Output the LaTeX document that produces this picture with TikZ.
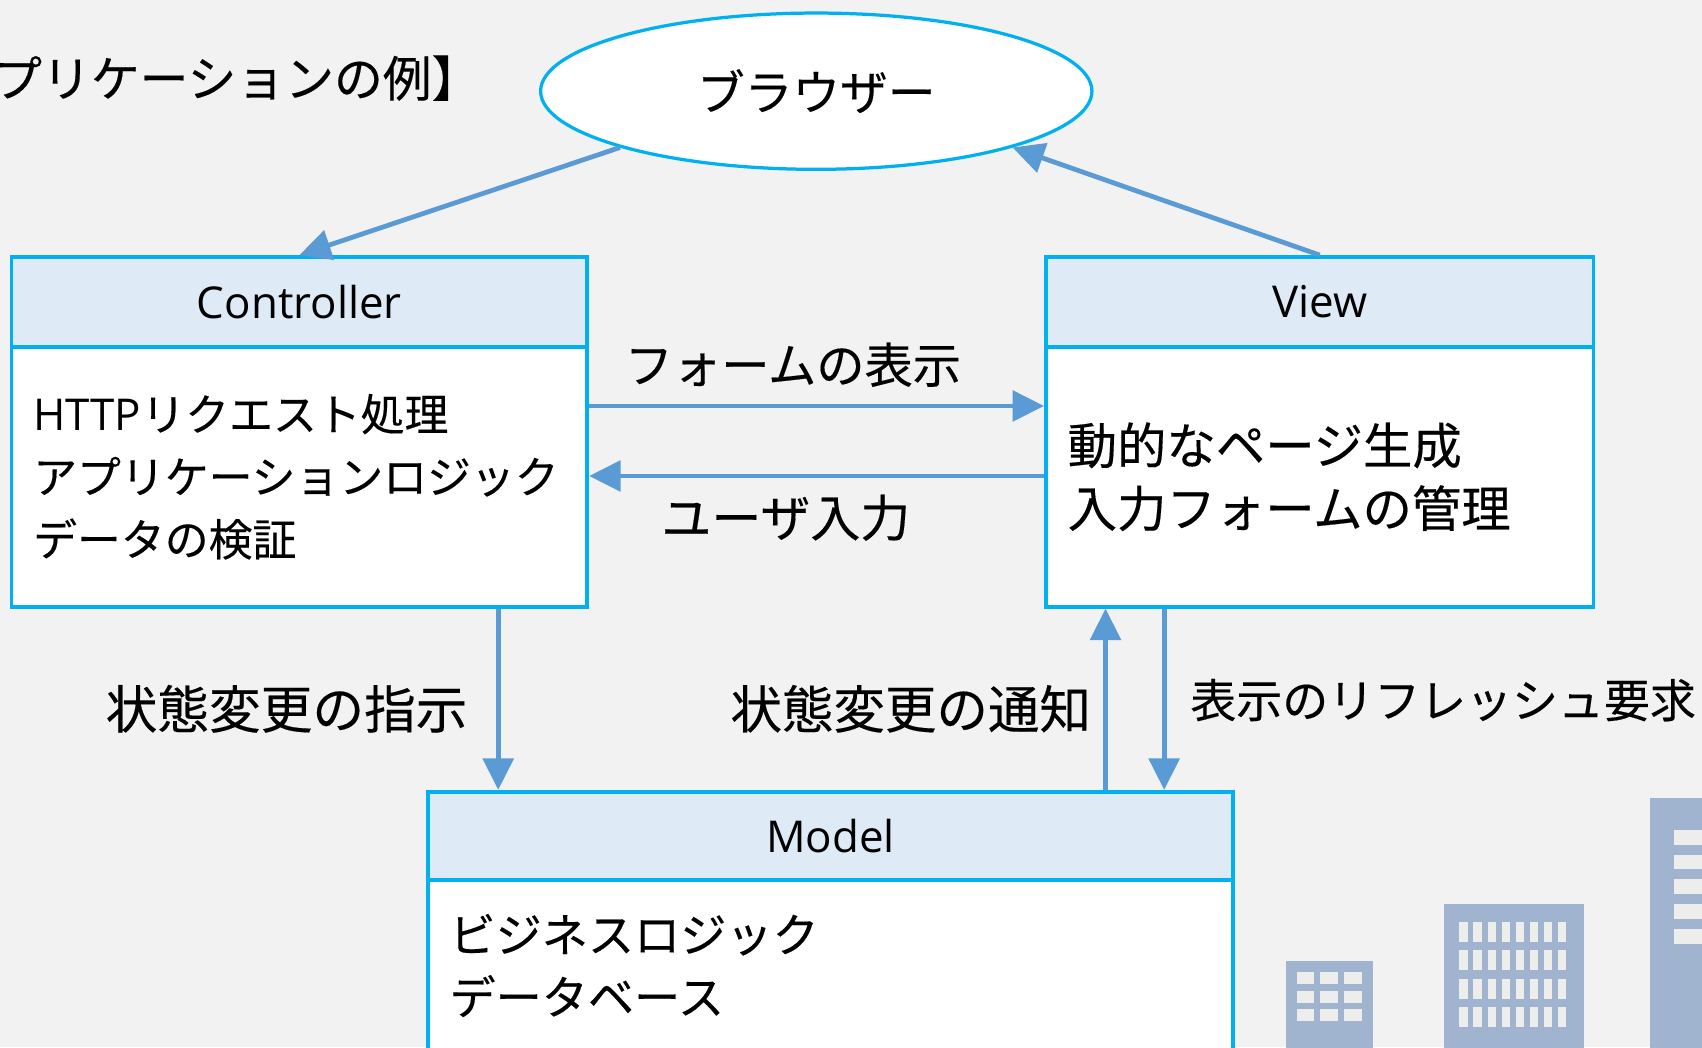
\documentclass[tikz,border=0pt]{standalone}
\usepackage{fontspec}
\setmainfont{Noto Sans CJK JP}[FakeBold=0.3]
\newfontfamily\latinfont{Open Sans}
\usetikzlibrary{shapes.geometric, arrows.meta}
\definecolor{paper}{HTML}{F2F2F2}
\definecolor{boxline}{HTML}{00B0F0}
\definecolor{headfill}{HTML}{DEEAF6}
\definecolor{arrowblue}{HTML}{5B9BD5}
\definecolor{bldg}{HTML}{A0B4D0}
\definecolor{pane}{HTML}{EDEDEB}

\tikzset{
  head/.style={draw=boxline, fill=headfill, line width=2pt, inner sep=0pt,
    minimum height=1.65cm, font=\latinfont\fontsize{23pt}{28pt}\selectfont},
  body/.style={draw=boxline, fill=white, line width=2pt, inner xsep=0.4cm,
    inner ysep=0pt, align=left},
  link/.style={draw=arrowblue, line width=2.5pt,
    -{Triangle[length=5.8mm, width=5.6mm]}},
  lbl/.style={inner sep=0pt, font=\fontsize{#1}{#1}\selectfont},
}

\begin{document}
\begin{tikzpicture}[x=0.02cm, y=-0.02cm]
    \useasboundingbox (0,0) rectangle (1568,965);
    \clip (0,0) rectangle (1568,965);
    \fill[paper] (0,0) rectangle (1568,965);

    % Titel
    \node[lbl=25.6pt, anchor=east] (title) at (443,72) {アプリケーションの例】};

    % Gebaeude unten rechts
    \fill[bldg] (1184.4,885) rectangle (1265.2,970);
    \foreach \i in {0,1,2} {
        \foreach \j in {0,1,2} {
            \fill[pane] (1194.6+21.8*\i, 895.7+17.1*\j) rectangle ++(16.2,11.1);
        }
    }
    \fill[bldg] (1330,833.1) rectangle (1459.5,970);
    \foreach \i in {0,...,7} {
        \foreach \j in {0,...,3} {
            \fill[pane] (1344.4+13.0*\i, 849.4+26.2*\j) rectangle ++(7.7,18.3);
        }
    }
    \fill[bldg] (1520.3,735.4) rectangle (1580,970);
    \foreach \j in {0,...,4} {
        \fill[pane] (1541.9, 764.6+22.8*\j) rectangle ++(40,13.5);
    }

    % Browser
    \node[ellipse, draw=boxline, fill=white, line width=1.7pt, inner sep=0pt,
          minimum width=10.16cm, minimum height=2.88cm,
          font=\fontsize{25pt}{30pt}\selectfont] (browser) at (752,84) {ブラウザー};

    % Controller
    \node[head, minimum width=10.61cm] (ctrlhead) at (275.8,278) {Controller};
    \node[body, minimum width=10.61cm, minimum height=4.79cm, text width=9.81cm,
          font=\fontsize{23pt}{32.8pt}\selectfont] (ctrlbody) at (275.8,439.2)
        {{\latinfont HTTP}リクエスト処理\\アプリケーションロジック\\データの検証};

    % View
    \node[head, minimum width=10.09cm] (viewhead) at (1215.8,278) {View};
    \node[body, minimum width=10.09cm, minimum height=4.79cm, text width=9.29cm,
          font=\fontsize{25.9pt}{33pt}\selectfont] (viewbody) at (1215.8,439.2)
        {動的なページ生成\\入力フォームの管理};

    % Model
    \node[head, minimum width=14.84cm, minimum height=1.63cm] (modelhead) at (765,770.2) {Model};
    \node[body, minimum width=14.84cm, minimum height=3.14cm, text width=14.04cm,
          font=\fontsize{24.2pt}{32.7pt}\selectfont] (modelbody) at (765,889.5)
        {ビジネスロジック\\データベース};

    % Hilfspunkte fuer die Pfeile
    \coordinate (fy) at (0,374);
    \coordinate (uy) at (0,438.5);
    \coordinate (cmx) at (459,0);
    \coordinate (mvx) at (1018.5,0);
    \coordinate (vmx) at (1072.5,0);

    % Pfeile
    \draw[link] (browser.196) -- (ctrlhead.north);
    \draw[link] (viewhead.north) -- (browser.344);
    \draw[link] (ctrlbody.east |- fy) -- (viewbody.west |- fy);
    \draw[link] (viewbody.west |- uy) -- (ctrlbody.east |- uy);
    \draw[link] (ctrlbody.south -| cmx) -- (modelhead.north -| cmx);
    \draw[link] (modelhead.north -| mvx) -- (viewbody.south -| mvx);
    \draw[link] (viewbody.south -| vmx) -- (modelhead.north -| vmx);

    % Beschriftungen
    \node[lbl=25.3pt] (lshow) at (730.5,336) {フォームの表示};
    \node[lbl=26.2pt] (linput) at (724,477) {ユーザ入力};
    \node[lbl=27.1pt] (lorder) at (264,653) {状態変更の指示};
    \node[lbl=27pt] (lnotify) at (839,653) {状態変更の通知};
    \node[lbl=24.1pt] (lrefresh) at (1329.5,645) {表示のリフレッシュ要求};
\end{tikzpicture}
\end{document}
